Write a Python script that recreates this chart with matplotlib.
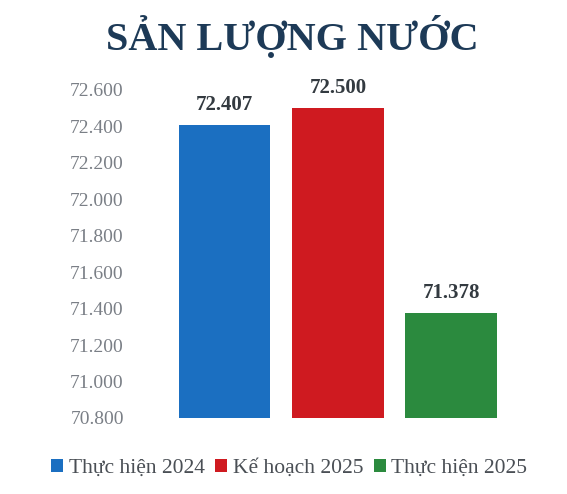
import matplotlib.pyplot as plt
from matplotlib.patches import Patch
from matplotlib.ticker import FuncFormatter, MultipleLocator

categories = ["Thực hiện 2024", "Kế hoạch 2025", "Thực hiện 2025"]
values = [72.407, 72.500, 71.378]
value_labels = ["72.407", "72.500", "71.378"]
colors = ["#1b6fc1", "#cf1a20", "#2b8a3e"]

plt.rcParams["font.family"] = ["Liberation Serif", "DejaVu Serif"]

fig = plt.figure(figsize=(5.67, 4.94), dpi=100)
ax = fig.add_axes([0.238, 0.154, 0.722, 0.664])

x = range(len(categories))
ax.bar(x, values, width=0.81, color=colors, bottom=0)
ax.set_ylim(70.8, 72.6)
ax.set_xlim(-0.79, 2.82)
ax.yaxis.set_major_locator(MultipleLocator(0.2))
ax.yaxis.set_major_formatter(FuncFormatter(lambda v, _: f"{v:.3f}"))
ax.tick_params(axis="y", length=0, labelsize=14, labelcolor="#7a7f86", pad=8)
ax.set_xticks([])
for s in ax.spines.values():
    s.set_visible(False)

for xi, v, lab in zip(x, values, value_labels):
    ax.text(xi, v + 0.055, lab, ha="center", va="bottom", fontsize=15,
            fontweight="bold", color="#333a40")

fig.text(0.515, 0.925, "SẢN LƯỢNG NƯỚC", ha="center", va="center", fontsize=29,
         fontweight="bold", color="#1d3a57")

handles = [Patch(facecolor=c) for c in colors]
fig.legend(handles, categories, loc="center", bbox_to_anchor=(0.51, 0.052), ncol=3,
           frameon=False, fontsize=15.5, handlelength=0.55, handleheight=0.55,
           handletextpad=0.25, columnspacing=0.5, labelcolor="#4a4f55")

fig.savefig("out.png", dpi=100, facecolor="white")
